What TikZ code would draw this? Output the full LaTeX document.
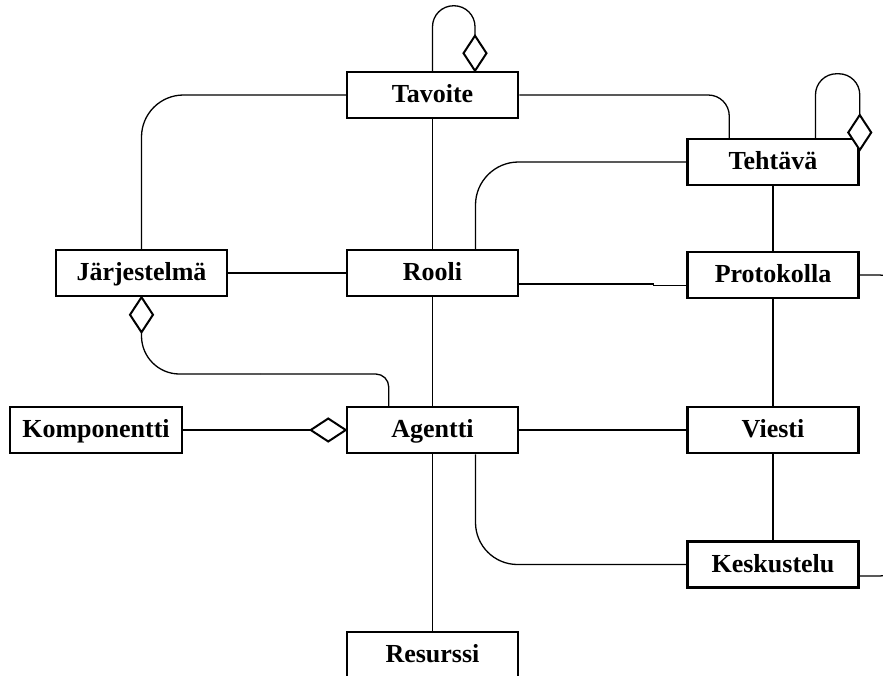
\documentclass[tikz,border=0pt]{standalone}
\usepackage{fontspec}
\setmainfont{Liberation Serif}
\usetikzlibrary{calc,shapes.geometric}

\begin{document}
\begin{tikzpicture}[x=1pt,y=-1pt,
  entity/.style={draw, line width=2.5pt, minimum width=171pt, minimum height=46pt,
    inner sep=0pt, text height=18pt, text depth=2.6pt,
    font=\fontsize{26}{30}\selectfont\bfseries},
  conn/.style={line width=1.3pt},
  agg/.style={diamond, draw, fill=white, line width=2pt, minimum width=23pt,
    minimum height=35pt, inner sep=0pt, outer sep=0pt}]

\useasboundingbox (0,0) rectangle (883,675);
\clip (0,0) rectangle (883,675);

% entities
\node[entity] (tav)   at (432.5,95)  {Tavoite};
\node[entity] (teh)   at (773,162)   {Tehtävä};
\node[entity] (jar)   at (141.5,273) {Järjestelmä};
\node[entity] (rooli) at (432.5,273) {Rooli};
\node[entity] (prot)  at (773,275)   {Protokolla};
\node[entity, minimum width=172pt] (komp) at (96,430) {Komponentti};
\node[entity] (ag)    at (432.5,430) {Agentti};
\node[entity] (vie)   at (773,430)   {Viesti};
\node[entity] (kes)   at (773,564.5) {Keskustelu};
\node[entity] (res)   at (432.5,655) {Resurssi};

% aggregation diamonds
\node[agg, anchor=south] (dTav) at ($(tav.north)+(42.5,0)$) {};
\node[agg, anchor=south] (dTeh) at ($(teh.east)+(0,-12)$) {};
\node[agg, anchor=north] (dJar) at (jar.south) {};
\node[agg, minimum width=35pt, minimum height=23pt, anchor=east] (dAg) at (ag.west) {};

% self associations
\draw[conn, rounded corners=21] (tav.north) -- ++(0,-65) -| (dTav.north);
\draw[conn, rounded corners=21] ($(teh.north)+(42.5,0)$) -- ++(0,-64) -| (dTeh.north);

% associations
\draw[conn, rounded corners=42] (tav.west) -| (jar.north);
\draw[conn, rounded corners=21] (tav.east) -| ($(teh.north west)+(43,0)$);
\draw[conn] (tav.south) -- (rooli.north);
\draw[conn, rounded corners=43] ($(rooli.north)+(43,0)$) |- (teh.west);
\draw[conn] (teh.south) -- (prot.north);
\draw[conn] (jar.east) -- (rooli.west);
\draw[conn] ($(rooli.east)+(0,11)$) -| ($(prot.west)+(-33,10.5)$) -- ($(prot.west)+(0,10.5)$);
\draw[conn, rounded corners=25] (prot.east) -| ++(45,40);
\draw[conn] (prot.south) -- (vie.north);

\coordinate (jaMid) at (260,374);
\draw[conn, rounded corners=38] (dJar.south) |- (jaMid);
\draw[conn, rounded corners=13] (jaMid) -| ($(ag.north west)+(43,0)$);

\draw[conn] (komp.east) -- (dAg.west);
\draw[conn] (ag.east) -- (vie.west);
\draw[conn] (rooli.south) -- (ag.north);
\draw[conn] (ag.south) -- (res.north);
\draw[conn, rounded corners=42] ($(ag.south)+(43,0)$) |- (kes.west);
\draw[conn] (vie.south) -- (kes.north);
\draw[conn, rounded corners=25] ($(kes.east)+(0,11.5)$) -| ++(45,-40);

\end{tikzpicture}
\end{document}
